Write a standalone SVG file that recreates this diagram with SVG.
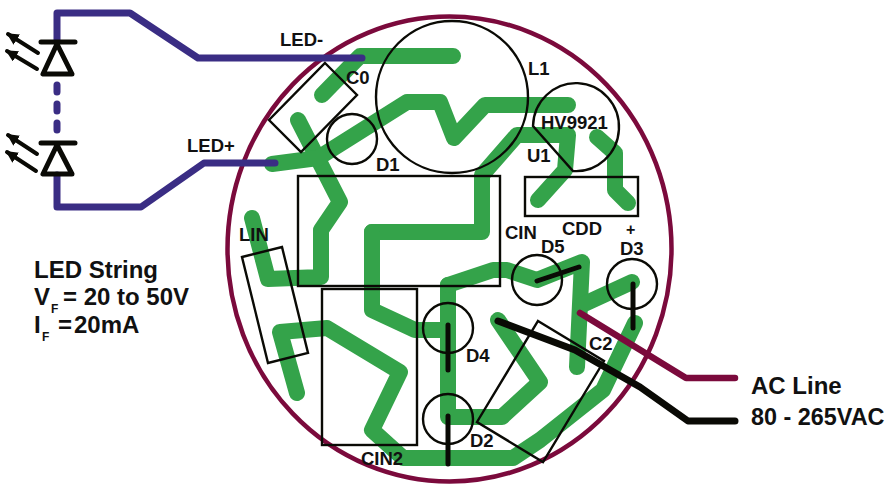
<svg xmlns="http://www.w3.org/2000/svg" width="886" height="485" viewBox="0 0 886 485">
<style>
text{font-family:"Liberation Sans",Arial,sans-serif;font-weight:700;fill:#111}
.l{font-size:18.500px}.b{font-size:24px}
.g{fill:none;stroke:#34a34a;stroke-width:16;stroke-linecap:round;stroke-linejoin:round}
.o{fill:none;stroke:#0a0a05;stroke-width:2.4}
.w{fill:none;stroke:#3a2d84;stroke-width:7;stroke-linecap:round;stroke-linejoin:round}
.k{fill:none;stroke:#0a0a05;stroke-width:5;stroke-linecap:round;stroke-linejoin:round}
.m{fill:none;stroke:#7b0a3c;stroke-width:6.500;stroke-linecap:round;stroke-linejoin:round}
</style>
<defs><marker id="a" markerWidth="3" markerHeight="3" refX="2.6" refY="1.5" orient="auto"><path d="M0,0L3,1.5L0,3Z" fill="#0a0a05"/></marker></defs>
<g id="board"><ellipse cx="449.5" cy="249" rx="222" ry="232.500" fill="none" stroke="#7b0a3c" stroke-width="4.500"/></g>
<g id="traces">
<path class="g" d="M322,95L360,56H453"/>
<path class="g" d="M298,120L340,202L321,230V277L268,279L252,218"/>
<path class="g" d="M272,164L318,158L407,102H440L454,138L485,105H568"/>
<path class="g" d="M372,232H482V175L517,135H568L565,170L538,200"/>
<path class="g" d="M372,232V310L415,330H448"/>
<path class="g" d="M597,137L615,153V190L628,203"/>
<path class="g" d="M448,285V417H502L540,382L498,320"/>
<path class="g" d="M448,285L493,270H507L537,280L582,262L577,367"/>
<path class="g" d="M582,305L632,282"/>
<path class="g" d="M635,323L603,390L540,440L513,458H403L372,430L400,372L327,328L280,332L297,393"/>
</g>
<g id="connectors">
<path class="w" d="M362,58H198L130,13H57V42"/>
<path class="w" d="M57,175V207H141L204,163H275"/>
<path class="w" d="M57,85V92M57,104V111M57,123V130"/>
<path class="m" d="M580,313L686,378H735"/>
<path class="k" style="stroke-width:7" d="M498,321L575,350L640,387L688,421H735"/>
</g>
<g id="led1"><path class="k" d="M41,42H75M57,44L43,74H72Z"/><path class="k" style="stroke-width:4" marker-end="url(#a)" d="M38,53L8,34"/><path class="k" style="stroke-width:4" marker-end="url(#a)" d="M37,69L7,51"/></g>
<g id="led2"><path class="k" d="M41,143H75M57,145L43,174H72Z"/><path class="k" style="stroke-width:4" marker-end="url(#a)" d="M37,154L8,135"/><path class="k" style="stroke-width:4" marker-end="url(#a)" d="M36,171L7,152"/></g>
<g id="C0"><path class="o" d="M325,63L357,95L301,152L269,120Z"/><text class="l" x="346" y="84">C0</text></g>
<g id="D1"><circle class="o" cx="352" cy="139" r="25"/><text class="l" x="376" y="171">D1</text></g>
<g id="L1"><circle class="o" cx="452" cy="97" r="76"/><text class="l" x="528" y="75">L1</text></g>
<g id="U1"><path class="o" d="M533,126A43,44 0 1 1 573,171Z"/><text class="l" x="541" y="129">HV9921</text><text class="l" x="527" y="162">U1</text></g>
<g id="CIN"><rect class="o" x="298" y="176" width="202" height="110"/><text class="l" x="505" y="239">CIN</text></g>
<g id="CDD"><rect class="o" x="525" y="177" width="113" height="39"/><text class="l" x="562" y="235">CDD</text></g>
<g id="CIN2"><rect class="o" x="322" y="289" width="95" height="156"/><text class="l" x="361" y="465">CIN2</text></g>
<g id="LIN"><path class="o" d="M242,257L282,247L308,353L268,363Z"/><text class="l" x="239" y="241">LIN</text></g>
<g id="D4"><circle class="o" cx="448" cy="328" r="25"/><path class="k" d="M448,325V370"/><text class="l" x="466" y="362">D4</text></g>
<g id="D2"><circle class="o" cx="448" cy="419" r="25"/><path class="k" d="M448,416V464"/><text class="l" x="470" y="447">D2</text></g>
<g id="D5"><circle class="o" cx="537" cy="280" r="25"/><path class="k" d="M537,281L579,267"/><text class="l" x="541" y="253">D5</text></g>
<g id="D3"><circle class="o" cx="632" cy="284" r="25"/><path class="k" d="M633,284V328"/><text class="l" x="620" y="255">D3</text><text x="626" y="235" font-size="16">+</text></g>
<g id="C2"><path class="o" d="M538,321L604,361L543,462L477,422Z"/><text class="l" x="589" y="350">C2</text></g>
<g id="labels">
<text class="l" x="280" y="46">LED-</text>
<text class="l" x="187" y="152">LED+</text>
<text class="b" x="34" y="278">LED String</text>
<text class="b" x="34" y="305">V<tspan font-size="12" x="51" y="313">F</tspan><tspan x="63" y="305">= 20 to 50V</tspan></text>
<text class="b" x="34" y="333">I<tspan font-size="12" x="42" y="341">F</tspan><tspan x="58" y="333">=</tspan><tspan x="74" y="333">20mA</tspan></text>
<text class="b" x="751" y="394">AC Line</text>
<text class="b" x="751" y="425" style="font-size:23.400px">80 - 265VAC</text>
</g>
</svg>
